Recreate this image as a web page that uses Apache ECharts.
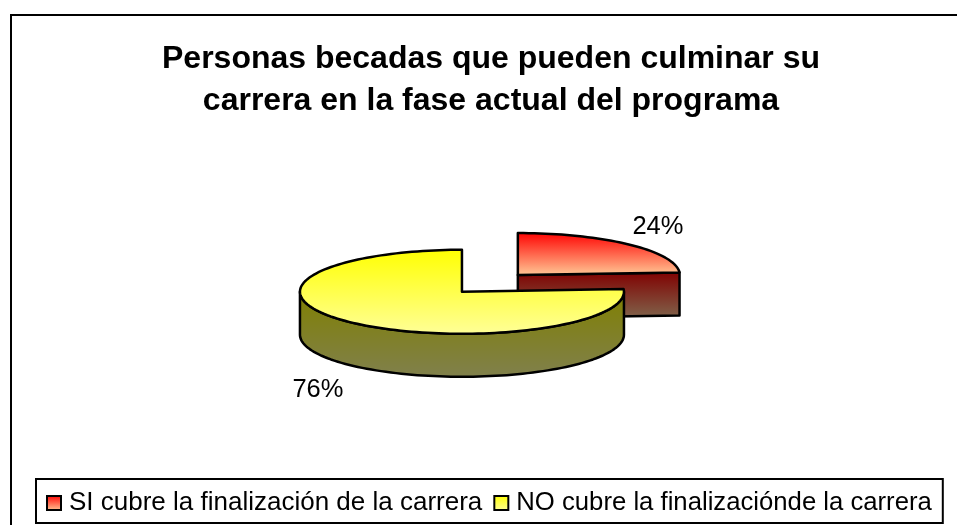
<!DOCTYPE html>
<html><head><meta charset="utf-8">
<style>html,body{margin:0;padding:0;background:#fff}#c{width:957px;height:525px}</style>
<script src="https://cdn.jsdelivr.net/npm/echarts@6/dist/echarts.min.js"></script>
</head><body><div id="c"></div>
<script>
const titleLines = ['Personas becadas que pueden culminar su', 'carrera en la fase actual del programa'];
const categories = ['SI cubre la finalización de la carrera', 'NO cubre la finalizaciónde la carrera'];
const values = [24, 76];
const topColors = [['#ff0000', '#ffcc99'], ['#ffff00', '#ffff99']];
const sideColors = [['#800000', '#80664d'], ['#808000', '#80804d']];
const labelOffsets = [[168, -56], [-172, 107]];
const legendFontSizes = [26, 25.7];

const FONT = '"Liberation Sans", Arial, sans-serif';
const CX = 489.9, CY = 283.4, RX = 162, RY = 42, DEPTH = 43, EXPLODE_X = 0.252, EXPLODE_Y = 0.273;
const total = values.reduce((a, b) => a + b, 0);
const grad = c => ({type: 'linear', x: 0, y: 0, x2: 0, y2: 1, colorStops: [{offset: 0, color: c[0]}, {offset: 1, color: c[1]}]});

function sliceRenderer(index) {
  return function (params, api) {
    const value = api.value(0);
    let before = 0;
    for (let i = 0; i < index; i++) before += values[i];
    const a0 = before / total * 360, a1 = (before + value) / total * 360;
    const rad = d => d * Math.PI / 180;
    const mid = rad((a0 + a1) / 2);
    const ox = CX + EXPLODE_X * RX * Math.sin(mid);
    const oy = CY - EXPLODE_Y * RY * Math.cos(mid);
    const pt = (d, dz) => [ox + RX * Math.sin(rad(d)), oy - RY * Math.cos(rad(d)) + (dz || 0)];
    const arc = (s, e, dz) => {
      const out = [];
      const n = Math.max(2, Math.ceil((e - s) / 2));
      for (let i = 0; i <= n; i++) out.push(pt(s + (e - s) * i / n, dz));
      return out;
    };
    const stroke = {stroke: '#000', lineWidth: 2.5, lineJoin: 'round'};
    const children = [];
    const sideFill = grad(sideColors[index]);
    const faceAt = d => [[ox, oy], pt(d), pt(d, DEPTH), [ox, oy + DEPTH]];
    const norm = d => ((d % 360) + 360) % 360;
    if (norm(a0) > 180) children.push({type: 'polygon', shape: {points: faceAt(a0)}, style: {fill: sideFill, ...stroke}});
    if (norm(a1) > 0 && norm(a1) < 180) children.push({type: 'polygon', shape: {points: faceAt(a1)}, style: {fill: sideFill, ...stroke}});
    const fs = Math.max(a0, 90), fe = Math.min(a1, 270);
    if (fe > fs) {
      const pts = arc(fs, fe, 0).concat(arc(fs, fe, DEPTH).reverse());
      children.push({type: 'polygon', shape: {points: pts}, style: {fill: sideFill, ...stroke}});
    }
    const topPts = [[ox, oy]].concat(arc(a0, a1, 0));
    children.push({type: 'polygon', shape: {points: topPts}, style: {fill: grad(topColors[index]), ...stroke}});
    const off = labelOffsets[index];
    children.push({type: 'text', style: {
      x: CX + off[0], y: CY + off[1],
      text: Math.round(value / total * 100) + '%', fill: '#000', font: '25.5px ' + FONT, align: 'center', verticalAlign: 'middle'
    }});
    return {type: 'group', children};
  };
}

const chart = echarts.init(document.getElementById('c'), null, {renderer: 'canvas'});
chart.setOption({
  animation: false,
  backgroundColor: '#fff',
  title: {
    text: titleLines.join('\n'), left: 486, top: 33, textAlign: 'center',
    textStyle: {fontFamily: FONT, fontSize: 32, fontWeight: 'bold', color: '#000', lineHeight: 42}
  },
  legend: {
    left: 36, top: 479, orient: 'horizontal', selectedMode: false, itemGap: 11, itemWidth: 14, itemHeight: 14,
    backgroundColor: '#fff', borderColor: '#000', borderWidth: 2, borderRadius: 0, padding: [11, 11, 7, 10],
    textStyle: {fontFamily: FONT, fontSize: 26, color: '#000', padding: [0, 0, 0, 3]},
    data: categories.map((name, i) => ({name, icon: 'rect',
      textStyle: {fontFamily: FONT, fontSize: legendFontSizes[i], color: '#000', padding: [0, 0, 0, 3]},
      itemStyle: {color: grad(topColors[i]), borderColor: '#000', borderWidth: 2}}))
  },
  graphic: [{type: 'rect', z: -1, shape: {x: 11, y: 15, width: 1000, height: 600}, style: {fill: 'none', stroke: '#000', lineWidth: 2}}],
  series: categories.map((name, i) => ({
    type: 'custom', name, coordinateSystem: 'none', silent: true,
    data: [[values[i]]], renderItem: sliceRenderer(i)
  }))
});
</script></body></html>
